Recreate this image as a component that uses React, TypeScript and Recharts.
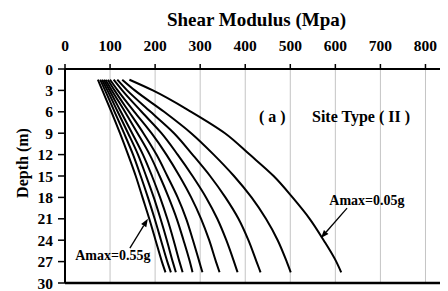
import { LineChart, Line, XAxis, YAxis, CartesianGrid, ReferenceLine, ReferenceDot } from 'recharts';

const depths = [1.5, 3, 6, 9, 12, 15, 18, 21, 24, 27, 28.5];
const g005 = [143, 195, 280, 355, 410, 463, 505, 543, 574, 602, 613];
const g010 = [127, 155, 220, 280, 330, 375, 414, 446, 472, 492, 501];
const g015 = [116, 138, 190, 242, 283, 322, 356, 385, 407, 425, 434];
const g020 = [108, 127, 170, 214, 250, 283, 313, 338, 358, 375, 383];
const g025 = [100, 117, 154, 192, 225, 254, 280, 302, 320, 335, 343];
const g030 = [95, 110, 142, 174, 203, 227, 250, 269, 284, 298, 305];
const g035 = [90, 104, 133, 161, 188, 210, 230, 248, 263, 277, 283];
const g040 = [86, 99, 124, 149, 173, 193, 211, 227, 241, 254, 261];
const g045 = [82, 94, 117, 140, 162, 180, 197, 212, 226, 239, 246];
const g050 = [78, 89, 110, 131, 151, 168, 184, 199, 213, 227, 235];
const g055 = [73, 83, 103, 122, 140, 157, 172, 187, 201, 215, 223];

const seriesKeys = ['a005', 'a010', 'a015', 'a020', 'a025', 'a030', 'a035', 'a040', 'a045', 'a050', 'a055'];
const seriesValues = [g005, g010, g015, g020, g025, g030, g035, g040, g045, g050, g055];

const xTicks = [0, 100, 200, 300, 400, 500, 600, 700, 800];
const yTicks = [0, 3, 6, 9, 12, 15, 18, 21, 24, 27, 30];

const data = depths.map((d, i) => {
  const row: Record<string, number> = { depth: d };
  seriesKeys.forEach((k, j) => {
    row[k] = seriesValues[j][i];
  });
  return row;
});

const font = 'Liberation Serif, Times New Roman, serif';

const Arrow = (props: any) => {
  const { x1, y1, x2, y2 } = props;
  const ang = Math.atan2(y2 - y1, x2 - x1);
  const len = 8;
  const w = 3;
  const bx = x2 - len * Math.cos(ang);
  const by = y2 - len * Math.sin(ang);
  const px = -Math.sin(ang) * w;
  const py = Math.cos(ang) * w;
  return (
    <g>
      <line x1={x1} y1={y1} x2={bx} y2={by} stroke="#000" strokeWidth={1.3} />
      <polygon points={`${x2},${y2} ${bx + px},${by + py} ${bx - px},${by - py}`} fill="#000" />
    </g>
  );
};

const textLabel = (value: string, size = 13) => ({
  value,
  position: 'center' as const,
  fill: '#000',
  fontSize: size,
  fontWeight: 'bold',
  fontFamily: font,
});

export default function App() {
  return (
    <LineChart
      width={440}
      height={283}
      data={data}
      layout="vertical"
      margin={{ top: 0, right: 0, bottom: 8, left: 0 }}
    >
      <CartesianGrid horizontal={false} stroke="#c4c4c4" strokeWidth={1} />
      <XAxis
        type="number"
        orientation="top"
        domain={[0, 850]}
        ticks={xTicks}
        interval={0}
        allowDataOverflow
        height={61}
        tickSize={5}
        tickMargin={13}
        axisLine={{ stroke: '#000', strokeWidth: 2 }}
        tickLine={{ stroke: '#000', strokeWidth: 1.5 }}
        tick={{ fill: '#000', fontSize: 15.5, fontWeight: 'bold', fontFamily: font }}
        label={{
          content: (p: any) => (
            <text
              x={p.viewBox.x + p.viewBox.width / 2}
              y={18}
              textAnchor="middle"
              fontSize={19}
              fontWeight="bold"
              fontFamily={font}
              fill="#000"
            >
              Shear Modulus (Mpa)
            </text>
          ),
        }}
      />
      <YAxis
        type="number"
        dataKey="depth"
        domain={[0, 30]}
        ticks={yTicks}
        interval={0}
        width={57}
        tickSize={7}
        tickMargin={5}
        axisLine={{ stroke: '#000', strokeWidth: 2 }}
        tickLine={{ stroke: '#000', strokeWidth: 1.5 }}
        tick={{ fill: '#000', fontSize: 15.5, fontWeight: 'bold', fontFamily: font }}
        label={{
          content: () => (
            <text
              x={14}
              y={155}
              transform="rotate(-90 14 155)"
              textAnchor="middle"
              dominantBaseline="central"
              fontSize={16}
              fontWeight="bold"
              fontFamily={font}
              fill="#000"
            >
              Depth (m)
            </text>
          ),
        }}
      />
      <ReferenceLine y={30} stroke="#000" strokeWidth={2.5} ifOverflow="visible" />
      {seriesKeys.map((k) => (
        <Line
          key={k}
          dataKey={k}
          type="monotone"
          stroke="#000"
          strokeWidth={2}
          dot={false}
          isAnimationActive={false}
        />
      ))}
      <ReferenceLine segment={[{ x: 626, y: 19.5 }, { x: 568, y: 23.7 }]} shape={Arrow} ifOverflow="visible" />
      <ReferenceLine segment={[{ x: 144, y: 25.1 }, { x: 184, y: 21 }]} shape={Arrow} ifOverflow="visible" />
      <ReferenceDot x={670} y={18.3} r={0} fill="none" stroke="none" label={textLabel('Amax=0.05g', 14)} />
      <ReferenceDot x={106} y={26.1} r={0} fill="none" stroke="none" label={textLabel('Amax=0.55g', 14)} />
      <ReferenceDot x={460} y={6.7} r={0} fill="none" stroke="none" label={textLabel('( a )', 16)} />
      <ReferenceDot x={657} y={6.7} r={0} fill="none" stroke="none" label={textLabel('Site Type ( II )', 16)} />
    </LineChart>
  );
}
